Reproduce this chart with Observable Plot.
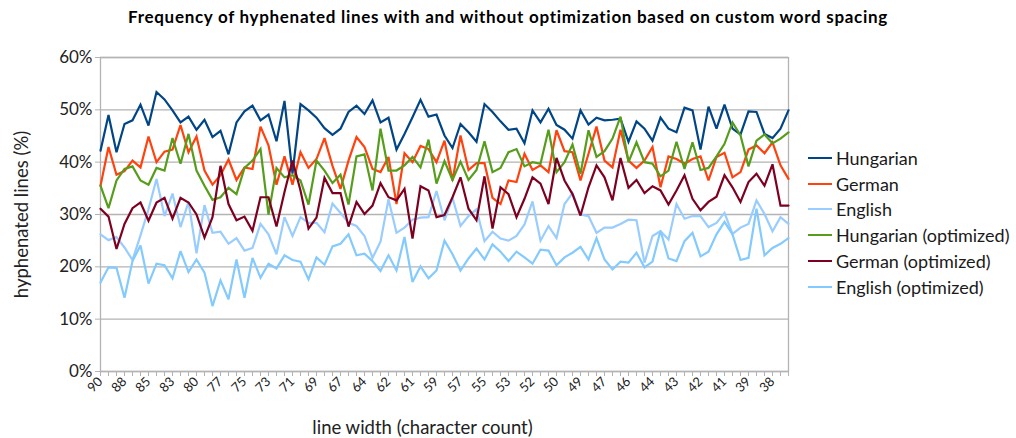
<!DOCTYPE html>
<html><head><meta charset="utf-8">
<script src="https://cdn.jsdelivr.net/npm/d3@7"></script>
<script src="https://cdn.jsdelivr.net/npm/@observablehq/plot@0.6"></script>
<style>
body{margin:0;background:#fff;font-family:Lato,"Open Sans",sans-serif;}
#wrap{position:relative;width:1016px;height:438px;overflow:hidden;}
#title{position:absolute;left:0;top:6px;width:1016px;text-align:center;font-weight:bold;font-size:17px;letter-spacing:0.7px;color:#000;}
#legend{position:absolute;left:808px;top:145px;font-size:18px;color:#1a1a1a;}
.row{height:25.8px;display:flex;align-items:center;white-space:nowrap;}
.sw{width:24px;height:2px;margin-right:4px;}
</style></head>
<body><div id="wrap"><div id="chart"></div><div id="title">Frequency of hyphenated lines with and without optimization based on custom word spacing</div><div id="legend"></div></div>
<script>
const seriesNames = ["Hungarian","German","English","Hungarian (optimized)","German (optimized)","English (optimized)"];
const seriesColors = ["#004586","#ff420e","#99ccff","#579d1c","#7e0021","#83caff"];
const tickLabels = ["90","88","85","83","80","77","75","73","71","69","67","64","62","61","59","57","55","53","52","50","49","47","46","44","43","42","41","39","38"];
const yTickValues = [0,10,20,30,40,50,60];
const yTickLabels = ["0%","10%","20%","30%","40%","50%","60%"];

const hungarian = [42.2,49.0,41.9,47.3,48.0,51.0,47.0,53.4,52.0,49.9,47.6,48.7,46.2,48.1,44.8,46.0,41.5,47.6,49.7,50.8,48.0,49.1,44.0,51.7,37.8,51.1,49.9,48.5,46.5,45.2,46.4,49.6,50.8,49.2,51.8,47.6,48.5,42.4,45.4,48.6,51.9,48.7,49.1,45.1,42.7,47.3,45.7,43.9,51.1,49.6,47.8,46.2,46.4,43.6,49.9,47.6,50.2,47.1,46.2,44.5,49.9,47.2,48.5,48.0,48.1,48.3,43.9,47.8,46.4,44.1,48.5,46.4,45.7,50.4,49.9,42.4,50.6,46.4,51.0,46.4,45.3,49.7,49.6,45.4,44.6,46.4,49.9];
const german = [35.5,42.9,37.6,38.3,40.3,39.0,44.9,40.0,42.0,42.4,47.1,41.9,44.9,38.4,35.7,37.5,40.5,36.6,39.0,38.7,46.8,43.2,35.7,41.1,35.7,41.9,38.9,40.6,44.6,39.3,34.9,40.3,44.8,42.9,38.7,38.1,41.0,32.0,41.7,40.0,43.1,42.5,40.0,44.1,36.5,45.1,38.5,39.8,39.8,33.2,32.0,36.5,36.2,41.6,38.5,39.4,38.1,46.1,42.1,41.9,36.5,41.6,46.8,40.3,39.0,46.2,40.3,38.9,40.3,42.9,35.2,41.1,40.6,39.7,40.6,41.1,36.5,41.0,41.8,37.1,38.1,42.4,43.2,41.7,43.8,39.4,36.8];
const english = [26.2,25.1,25.7,23.7,21.3,26.0,31.0,36.8,29.7,34.0,27.6,32.4,22.6,31.8,26.5,26.7,24.4,25.5,23.1,23.6,28.2,26.2,22.4,29.5,25.9,29.5,28.4,28.4,26.6,32.1,30.3,28.4,27.8,25.9,21.7,24.8,32.9,26.5,27.5,29.0,29.4,29.5,34.5,28.9,33.2,27.8,29.7,31.0,24.9,26.7,25.4,25.0,25.9,28.1,32.5,25.0,27.8,25.5,32.0,34.1,30.0,29.7,26.5,27.5,27.5,28.2,29.0,28.9,20.8,25.9,26.8,25.2,32.0,29.2,29.7,29.7,27.6,28.4,30.3,26.3,27.5,28.2,32.7,30.1,26.8,29.5,28.2];
const hungarianOpt = [35.5,31.2,36.5,38.7,39.2,36.5,35.7,38.9,38.4,44.6,39.7,45.4,38.4,35.5,32.8,33.3,35.1,33.9,38.9,40.3,42.5,30.0,38.9,37.1,37.5,36.5,31.9,40.3,38.4,36.0,37.6,31.9,41.1,41.5,34.6,46.4,38.4,38.4,39.4,41.0,39.0,44.3,35.9,40.2,36.6,40.1,36.6,38.5,44.0,38.1,38.9,41.9,42.5,39.2,40.0,39.7,46.2,38.1,40.0,43.4,37.8,46.1,41.0,42.1,44.5,48.7,40.0,43.8,40.0,39.7,37.3,38.4,43.9,38.7,43.8,38.5,38.9,41.1,43.5,47.6,45.1,39.2,44.1,45.3,43.6,44.5,45.7];
const germanOpt = [31.1,29.6,23.4,28.2,31.2,32.3,28.8,32.3,33.2,29.2,33.2,32.3,30.0,25.6,29.5,39.3,32.0,28.9,29.6,26.9,33.3,33.3,27.7,34.3,40.3,34.6,27.3,29.4,37.0,34.1,34.1,27.7,32.4,30.1,31.7,36.0,33.3,32.7,34.9,25.4,35.4,34.6,29.5,29.9,33.3,37.1,31.1,28.9,37.3,27.3,35.2,33.9,29.5,33.0,37.1,35.9,32.0,40.8,36.5,33.9,29.8,35.2,39.4,37.1,32.7,40.8,35.1,36.6,34.1,35.4,34.6,31.9,34.6,37.5,33.0,30.8,32.4,33.4,37.5,35.2,32.4,36.2,37.8,35.5,39.6,31.7,31.7];
const englishOpt = [17.0,19.9,19.8,14.1,21.1,24.1,16.8,20.6,20.3,17.8,23.0,19.0,21.4,18.9,12.5,17.4,13.8,21.4,14.1,21.7,17.9,20.6,19.7,22.2,21.3,21.0,17.6,21.8,20.4,23.9,24.4,26.2,22.2,22.5,21.1,19.2,22.2,19.3,25.7,17.1,20.1,17.8,19.3,25.0,22.4,19.3,21.6,23.5,21.4,24.3,22.9,21.1,22.9,21.8,20.6,23.3,23.1,20.3,21.8,22.7,23.8,21.4,25.5,21.4,19.5,21.0,20.8,22.7,19.9,21.0,26.9,21.6,21.1,24.9,26.5,22.0,22.9,26.2,28.6,26.2,21.3,21.7,31.1,22.2,23.6,24.4,25.5];

const seriesValues = [hungarian, german, english, hungarianOpt, germanOpt, englishOpt];
const rows = [];
seriesValues.forEach((vals, s) => vals.forEach((v, i) => rows.push({series: seriesNames[s], i, v: v / 100})));
const n = hungarian.length;

const chart = Plot.plot({
  width: 1016, height: 438,
  marginLeft: 100, marginRight: 228, marginTop: 57, marginBottom: 67,
  style: {fontFamily: "Lato, 'Open Sans', sans-serif", background: "transparent", color: "#222"},
  x: {type: "linear", domain: [0, n - 1]},
  y: {domain: [0, 0.6]},
  color: {domain: seriesNames, range: seriesColors},
  marks: [
    Plot.gridY(yTickValues.map(d => d / 100), {stroke: "#b3b3b3", strokeOpacity: 1, strokeWidth: 1.3}),
    Plot.frame({stroke: "#b3b3b3", strokeWidth: 1.3}),
    Plot.axisY(yTickValues.map(d => d / 100), {tickFormat: (d, k) => yTickLabels[k], fontSize: 17, tickSize: 5, tickPadding: 3, stroke: "#b3b3b3", fill: "#222", label: null}),
    Plot.axisX(d3.range(0, n), {tickSize: 5, tickFormat: () => "", stroke: "#b3b3b3", label: null}),
    Plot.axisX(d3.range(0, n, 3), {tickSize: 0, tickRotate: -45, tickPadding: 8, tickFormat: d => tickLabels[d / 3], fontSize: 13, fill: "#222", label: null}),
    Plot.lineY(rows, {x: "i", y: "v", z: "series", stroke: "series", strokeWidth: 2.2, strokeLinejoin: "miter", strokeMiterlimit: 3}),
    Plot.text(["hyphenated lines (%)"], {text: d => d, frameAnchor: "left", textAnchor: "middle", dx: -78, rotate: -90, fontSize: 18.5, fill: "#222"}),
    Plot.text(["line width (character count)"], {text: d => d, frameAnchor: "bottom", textAnchor: "middle", dx: -22, dy: 57, fontSize: 18.5, fill: "#222", lineAnchor: "middle"})
  ]
});
document.getElementById("chart").appendChild(chart);

const legend = d3.select("#legend");
seriesNames.forEach((name, s) => {
  const row = legend.append("div").attr("class", "row");
  row.append("div").attr("class", "sw").style("background", seriesColors[s]);
  row.append("span").text(name);
});
</script>
</body></html>
